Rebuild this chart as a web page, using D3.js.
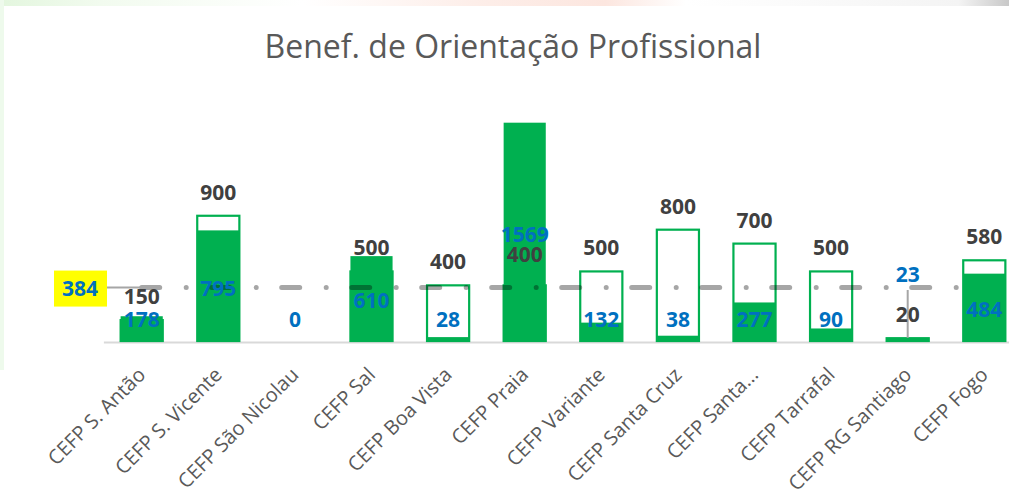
<!DOCTYPE html>
<html>
<head>
<meta charset="utf-8">
<script src="https://cdn.jsdelivr.net/npm/d3@7"></script>
<style>
  body { margin: 0; background: #fff; }
  svg { display: block; font-family: "Open Sans", sans-serif; }
</style>
</head>
<body>
<div id="chart"></div>
<script>
var categories = ["CEFP S. Antão", "CEFP S. Vicente", "CEFP São Nicolau", "CEFP Sal", "CEFP Boa Vista", "CEFP Praia",
  "CEFP Variante", "CEFP Santa Cruz", "CEFP Santa...", "CEFP Tarrafal", "CEFP RG Santiago", "CEFP Fogo"];
var targets = [150, 900, null, 500, 400, 400, 500, 800, 700, 500, 20, 580];
var actuals = [178, 795, 0, 610, 28, 1569, 132, 38, 277, 90, 23, 484];
var average = 384;
var chartTitle = "Benef. de Orientação Profissional";

var svgWidth = 1009;
var svgHeight = 497;
var baseY = 341;

var svg = d3.select("#chart")
  .append("svg")
  .attr("width", svgWidth)
  .attr("height", svgHeight);

// faint slide background peeking round the edges
var defs = svg.append("defs");
var grad = defs.append("linearGradient").attr("id", "topStrip");
[["0%", "#e3f6de"], ["10%", "#f2fbef"], ["30%", "#ffffff"], ["47%", "#fdeee9"], ["60%", "#fce6df"],
 ["68%", "#ffffff"], ["95%", "#f4f4f4"], ["100%", "#c8c8c8"]].forEach(function(s) {
  grad.append("stop").attr("offset", s[0]).attr("stop-color", s[1]);
});
svg.append("rect").attr("width", svgWidth).attr("height", 6).attr("fill", "url(#topStrip)");
svg.append("rect").attr("y", 0).attr("width", 4).attr("height", 370).attr("fill", "#eefaec");

var x = d3.scaleBand()
  .domain(categories)
  .range([103.4, 1022.6])
  .paddingInner(0.45)
  .paddingOuter(0.225);

var y = d3.scaleLinear()
  .domain([0, 1600])
  .range([baseY, baseY - 1600 * 0.13914]);

var rows = categories.map(function(c, i) {
  return { name: c, target: targets[i], actual: actuals[i] };
});

// title
svg.append("text")
  .attr("x", 513)
  .attr("y", 58)
  .attr("text-anchor", "middle")
  .attr("font-size", "32px")
  .attr("fill", "#595959")
  .text(chartTitle);

// x axis
var xAxis = svg.append("g")
  .attr("transform", "translate(0," + (baseY + 1) + ")")
  .call(d3.axisBottom(x).tickSize(0).tickSizeOuter(0));
xAxis.select(".domain").attr("stroke", "#d9d9d9").attr("stroke-width", 2);
xAxis.selectAll("text")
  .attr("font-family", "Open Sans, sans-serif")
  .attr("font-size", "20px")
  .attr("fill", "#595959")
  .attr("text-anchor", "end")
  .attr("dy", null)
  .attr("y", 0)
  .attr("transform", "translate(5,34) rotate(-45)");

// target bars (outline)
svg.append("g").selectAll("rect")
  .data(rows.filter(function(d) { return d.target != null; }))
  .enter()
  .append("rect")
  .attr("x", function(d) { return x(d.name); })
  .attr("y", function(d) { return y(d.target); })
  .attr("width", x.bandwidth())
  .attr("height", function(d) { return baseY - y(d.target); })
  .attr("fill", "#ffffff")
  .attr("stroke", "#00b050")
  .attr("stroke-width", 2.2);

// actual bars (filled)
svg.append("g").selectAll("rect")
  .data(rows)
  .enter()
  .append("rect")
  .attr("x", function(d) { return x(d.name); })
  .attr("y", function(d) { return y(d.actual); })
  .attr("width", x.bandwidth())
  .attr("height", function(d) { return baseY - y(d.actual); })
  .attr("fill", "#00b050");

// average line
var first = categories[0], last = categories[categories.length - 1];
svg.append("line")
  .attr("x1", x(first) + x.bandwidth() / 2)
  .attr("x2", x(last))
  .attr("y1", y(average))
  .attr("y2", y(average))
  .attr("stroke", "#000")
  .attr("stroke-opacity", 0.35)
  .attr("stroke-width", 5)
  .attr("stroke-linecap", "round")
  .attr("stroke-dasharray", "18 26.5 0.01 25.49");

// leader lines for moved labels
svg.append("line")
  .attr("x1", 107).attr("x2", x(first) + x.bandwidth() / 2)
  .attr("y1", y(average)).attr("y2", y(average))
  .attr("stroke", "#a6a6a6").attr("stroke-width", 2);
var rg = "CEFP RG Santiago";
svg.append("line")
  .attr("x1", x(rg) + x.bandwidth() / 2).attr("x2", x(rg) + x.bandwidth() / 2)
  .attr("y1", 290).attr("y2", y(actuals[categories.indexOf(rg)]))
  .attr("stroke", "#a6a6a6").attr("stroke-width", 2);

// average label box
svg.append("rect")
  .attr("x", 54).attr("y", y(average) - 17)
  .attr("width", 53).attr("height", 36)
  .attr("fill", "#ffff00");
svg.append("text")
  .attr("x", 80).attr("y", y(average) + 8)
  .attr("text-anchor", "middle")
  .attr("font-size", "21px").attr("font-weight", "bold")
  .attr("fill", "#0070c0")
  .text(average);

// manual label nudges (px), as in the original chart
var targetNudge = { "CEFP Praia": -7 };
var actualNudge = { "CEFP S. Vicente": -31, "CEFP Sal": -19, "CEFP Praia": -85, "CEFP RG Santiago": -45, "CEFP Fogo": -10 };

svg.append("g").selectAll("text")
  .data(rows.filter(function(d) { return d.target != null; }))
  .enter()
  .append("text")
  .attr("x", function(d) { return x(d.name) + x.bandwidth() / 2; })
  .attr("y", function(d) { return y(d.target) - 16 + (targetNudge[d.name] || 0); })
  .attr("text-anchor", "middle")
  .attr("font-size", "21px").attr("font-weight", "bold")
  .attr("fill", "#404040")
  .text(function(d) { return d.target; });

svg.append("g").selectAll("text")
  .data(rows)
  .enter()
  .append("text")
  .attr("x", function(d) { return x(d.name) + x.bandwidth() / 2; })
  .attr("y", function(d) { return baseY - 14 + (actualNudge[d.name] || 0); })
  .attr("text-anchor", "middle")
  .attr("font-size", "21px").attr("font-weight", "bold")
  .attr("fill", "#0070c0")
  .text(function(d) { return d.actual; });
</script>
</body>
</html>
